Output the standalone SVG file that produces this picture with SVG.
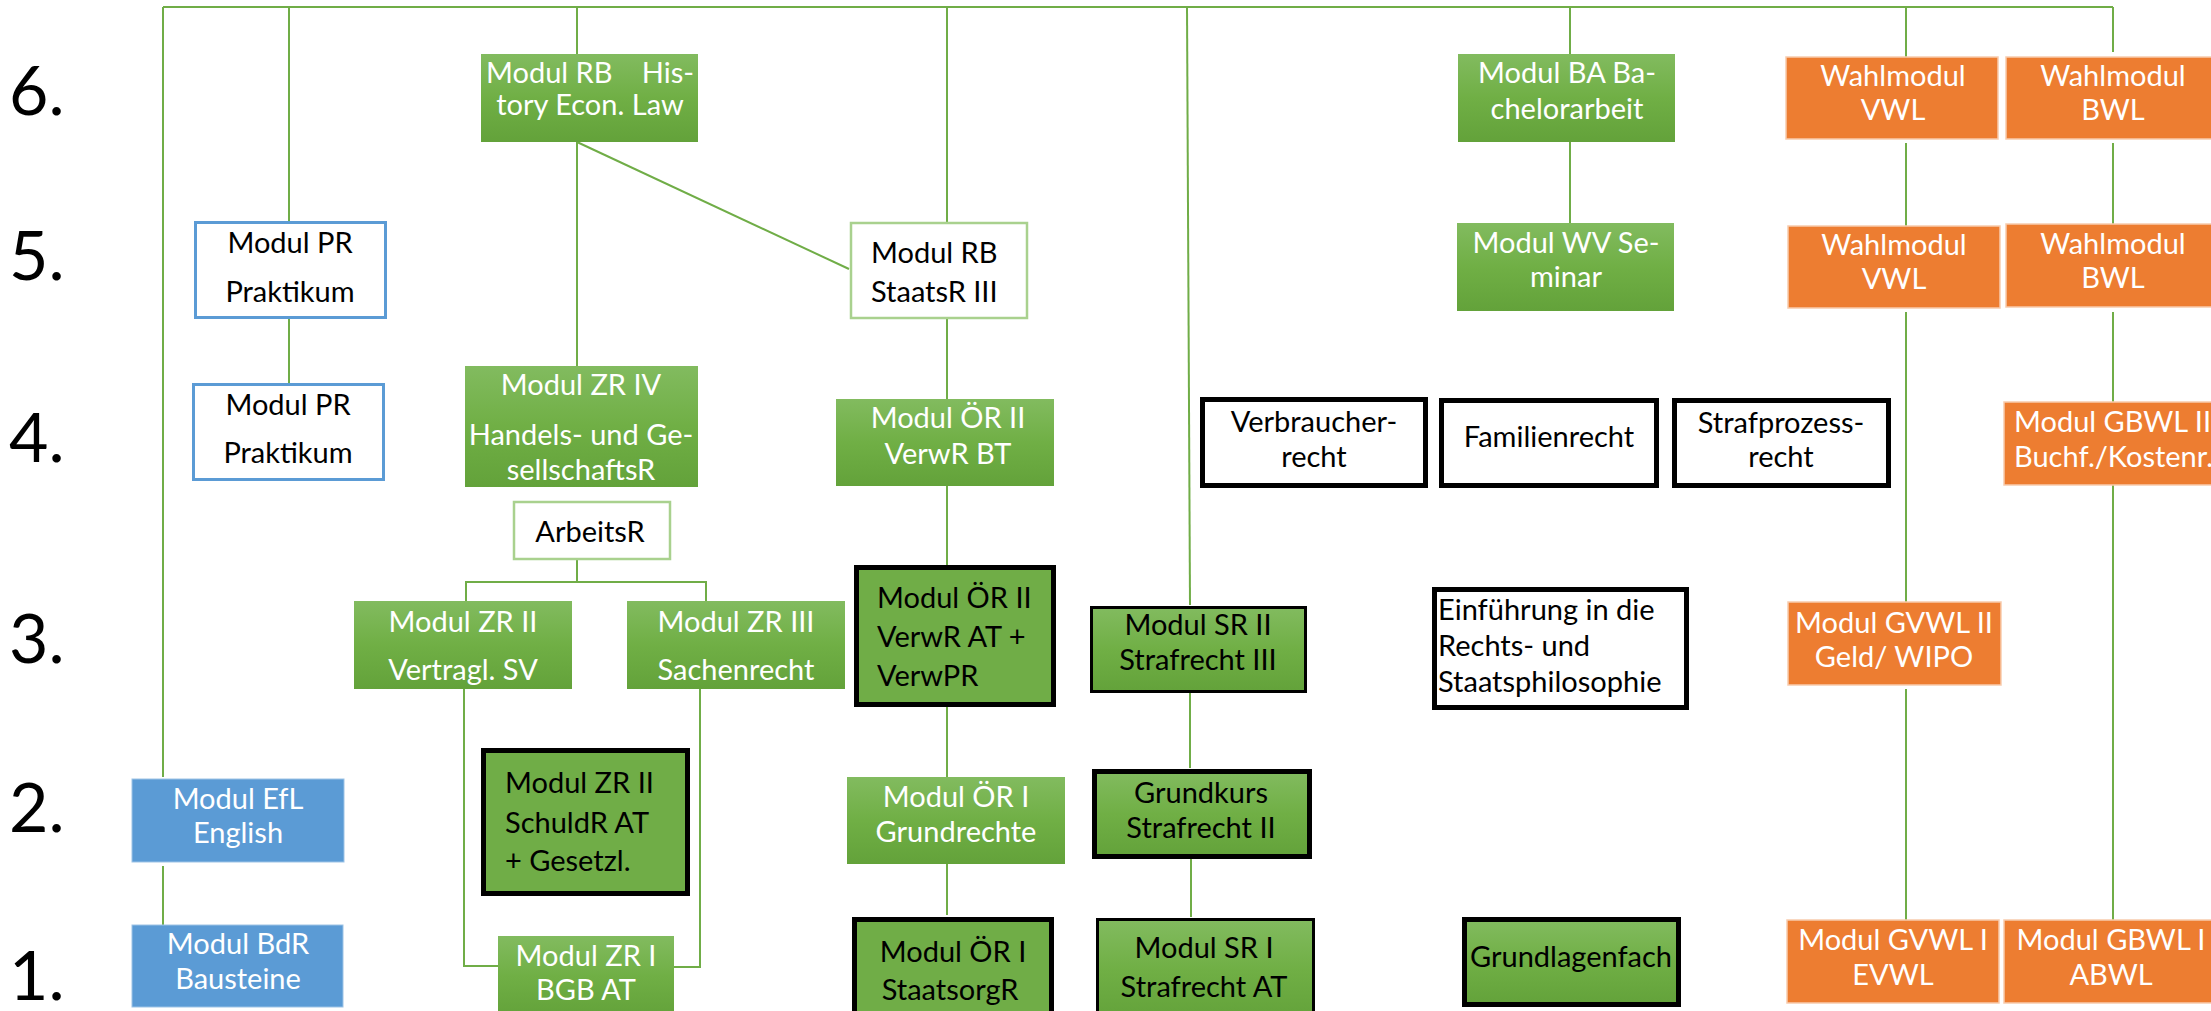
<svg xmlns="http://www.w3.org/2000/svg" width="2211" height="1011" viewBox="0 0 2211 1011">
<defs>
<linearGradient id="gg" x1="0" y1="0" x2="0" y2="1">
<stop offset="0" stop-color="#82BB5F"/>
<stop offset="0.5" stop-color="#70AF45"/>
<stop offset="1" stop-color="#63A23A"/>
</linearGradient>
<style>
.ln{stroke:#70AD47;stroke-width:2;fill:none}
.g{fill:url(#gg)}
.gf{fill:#70AD47;stroke:#000;stroke-width:5}
.gb{fill:url(#gg);stroke:#000;stroke-width:5}
.gb3{fill:url(#gg);stroke:#000;stroke-width:3}
.wb{fill:#fff;stroke:#000;stroke-width:5}
.o{fill:#ED7D31;stroke:#F8CBAD;stroke-width:1.5}
.b{fill:#5B9BD5;stroke:#9DC3E6;stroke-width:1}
.pr{fill:#fff;stroke:#5B9BD5;stroke-width:3}
.lg{fill:#fff;stroke:#A9D18E;stroke-width:2.5}
text{font-family:Lato,"Liberation Sans",sans-serif;font-size:29px}
.tw{fill:#fff}
.tb{fill:#000}
.c{text-anchor:middle}
.e{text-anchor:end}
.row{font-size:68px;fill:#000}
</style>
</defs>
<rect width="2211" height="1011" fill="#fff"/>

<g id="rows">
<text class="row" x="9" y="115">6.</text>
<text class="row" x="9" y="280">5.</text>
<text class="row" x="9" y="462">4.</text>
<text class="row" x="9" y="663">3.</text>
<text class="row" x="9" y="832">2.</text>
<text class="row" x="9" y="1000">1.</text>
</g>

<g id="connectors">
<path class="ln" d="M163,7 H2113"/>
<path class="ln" d="M163,7 V777"/>
<path class="ln" d="M289,7 V221"/>
<path class="ln" d="M577,7 V54"/>
<path class="ln" d="M947,7 V222"/>
<path class="ln" d="M1187,7 L1190,605"/>
<path class="ln" d="M1570,7 V54"/>
<path class="ln" d="M1906,7 V57"/>
<path class="ln" d="M2113,7 V52"/>
<path class="ln" d="M289,319 V383"/>
<path class="ln" d="M577,142 V366"/>
<path class="ln" d="M577,142 L849,269"/>
<path class="ln" d="M577,559 V582 M466,601 V582 H706 V601"/>
<path class="ln" d="M464,689 V966 H498"/>
<path class="ln" d="M700,689 V967 H674"/>
<path class="ln" d="M163,866 V925"/>
<path class="ln" d="M947,319 V399"/>
<path class="ln" d="M947,486 V565"/>
<path class="ln" d="M947,707 V777"/>
<path class="ln" d="M947,864 V915"/>
<path class="ln" d="M1190,693 V768"/>
<path class="ln" d="M1191,859 V917"/>
<path class="ln" d="M1570,142 V223"/>
<path class="ln" d="M1906,143 V226"/>
<path class="ln" d="M1906,312 V602"/>
<path class="ln" d="M1906,689 V920"/>
<path class="ln" d="M2113,143 V224"/>
<path class="ln" d="M2113,312 V402"/>
<path class="ln" d="M2113,485 V920"/>
</g>

<g id="n_pr5">
<rect class="pr" x="195.5" y="222.5" width="190" height="95"/>
<text class="tb c" x="290" y="253">Modul PR</text>
<text class="tb c" x="290" y="302">Praktikum</text>
</g>
<g id="n_pr4">
<rect class="pr" x="193.5" y="384.5" width="190" height="95"/>
<text class="tb c" x="288" y="415">Modul PR</text>
<text class="tb c" x="288" y="463">Praktikum</text>
</g>
<g id="n_rb6">
<rect class="g" x="481" y="54" width="217" height="88"/>
<text class="tw" x="486" y="83">Modul RB<tspan class="e" x="694">His-</tspan></text>
<text class="tw c" x="590" y="115">tory Econ. Law</text>
</g>
<g id="n_zr4">
<rect class="g" x="465" y="366" width="233" height="121"/>
<text class="tw c" x="581" y="395">Modul ZR IV</text>
<text class="tw c" x="581" y="445">Handels- und Ge-</text>
<text class="tw c" x="581" y="480">sellschaftsR</text>
</g>
<g id="n_arb">
<rect class="lg" x="514" y="502" width="156" height="57"/>
<text class="tb c" x="590" y="542">ArbeitsR</text>
</g>
<g id="n_zr2">
<rect class="g" x="354" y="601" width="218" height="88"/>
<text class="tw c" x="463" y="632">Modul ZR II</text>
<text class="tw c" x="463" y="680">Vertragl. SV</text>
</g>
<g id="n_zr3">
<rect class="g" x="627" y="601" width="218" height="88"/>
<text class="tw c" x="736" y="632">Modul ZR III</text>
<text class="tw c" x="736" y="680">Sachenrecht</text>
</g>
<g id="n_schuld">
<rect class="gf" x="483.5" y="750.5" width="204" height="143"/>
<text class="tb" x="505" y="793">Modul ZR II</text>
<text class="tb" x="505" y="833">SchuldR AT</text>
<text class="tb" x="505" y="871">+ Gesetzl.</text>
</g>
<g id="n_zr1">
<rect class="g" x="498" y="936" width="176" height="80"/>
<text class="tw c" x="586" y="966">Modul ZR I</text>
<text class="tw c" x="586" y="1000">BGB AT</text>
</g>
<g id="n_efl">
<rect class="b" x="132" y="779" width="212" height="83"/>
<text class="tw c" x="238" y="809">Modul EfL</text>
<text class="tw c" x="238" y="843">English</text>
</g>
<g id="n_bdr">
<rect class="b" x="132" y="925" width="211" height="82"/>
<text class="tw c" x="238" y="954">Modul BdR</text>
<text class="tw c" x="238" y="989">Bausteine</text>
</g>
<g id="n_rb5">
<rect class="lg" x="851" y="223" width="176" height="95"/>
<text class="tb" x="871" y="263">Modul RB</text>
<text class="tb" x="871" y="302">StaatsR III</text>
</g>
<g id="n_or2bt">
<rect class="g" x="836" y="399" width="218" height="87"/>
<text class="tw c" x="948" y="428">Modul ÖR II</text>
<text class="tw c" x="948" y="464">VerwR BT</text>
</g>
<g id="n_or2at">
<rect class="gf" x="856.5" y="567.5" width="197" height="137"/>
<text class="tb" x="877" y="608">Modul ÖR II</text>
<text class="tb" x="877" y="647">VerwR AT +</text>
<text class="tb" x="877" y="686">VerwPR</text>
</g>
<g id="n_or1gr">
<rect class="g" x="847" y="777" width="218" height="87"/>
<text class="tw c" x="956" y="807">Modul ÖR I</text>
<text class="tw c" x="956" y="842">Grundrechte</text>
</g>
<g id="n_or1st">
<rect class="gf" x="854.5" y="919.5" width="197" height="100"/>
<text class="tb c" x="953" y="962">Modul ÖR I</text>
<text class="tb c" x="950" y="1000">StaatsorgR</text>
</g>
<g id="n_sr2">
<rect class="gb3" x="1091.5" y="607.5" width="214" height="84"/>
<text class="tb c" x="1198" y="635">Modul SR II</text>
<text class="tb c" x="1198" y="670">Strafrecht III</text>
</g>
<g id="n_gk">
<rect class="gb" x="1094.5" y="771.5" width="215" height="85"/>
<text class="tb c" x="1201" y="803">Grundkurs</text>
<text class="tb c" x="1201" y="838">Strafrecht II</text>
</g>
<g id="n_sr1">
<rect class="gb3" x="1097.5" y="919.5" width="216" height="100"/>
<text class="tb c" x="1204" y="958">Modul SR I</text>
<text class="tb c" x="1204" y="997">Strafrecht AT</text>
</g>
<g id="n_verb">
<rect class="wb" x="1202.5" y="399.5" width="223" height="86"/>
<text class="tb c" x="1314" y="432">Verbraucher-</text>
<text class="tb c" x="1314" y="467">recht</text>
</g>
<g id="n_fam">
<rect class="wb" x="1441.5" y="400.5" width="215" height="85"/>
<text class="tb c" x="1549" y="447">Familienrecht</text>
</g>
<g id="n_straf">
<rect class="wb" x="1674.5" y="400.5" width="214" height="85"/>
<text class="tb c" x="1781" y="433">Strafprozess-</text>
<text class="tb c" x="1781" y="467">recht</text>
</g>
<g id="n_einf">
<rect class="wb" x="1434.5" y="589.5" width="252" height="118"/>
<text class="tb" x="1438" y="620">Einführung in die</text>
<text class="tb" x="1438" y="656">Rechts- und</text>
<text class="tb" x="1438" y="692">Staatsphilosophie</text>
</g>
<g id="n_grund">
<rect class="gb" x="1464.5" y="919.5" width="214" height="85"/>
<text class="tb c" x="1571" y="967">Grundlagenfach</text>
</g>
<g id="n_ba">
<rect class="g" x="1458" y="54" width="217" height="88"/>
<text class="tw c" x="1567" y="83">Modul BA Ba-</text>
<text class="tw c" x="1567" y="119">chelorarbeit</text>
</g>
<g id="n_wv">
<rect class="g" x="1457" y="223" width="217" height="88"/>
<text class="tw c" x="1566" y="253">Modul WV Se-</text>
<text class="tw c" x="1566" y="287">minar</text>
</g>
<g id="n_wvwl6">
<rect class="o" x="1786" y="57" width="212" height="82"/>
<text class="tw c" x="1893" y="86">Wahlmodul</text>
<text class="tw c" x="1893" y="120">VWL</text>
</g>
<g id="n_wbwl6">
<rect class="o" x="2006" y="57" width="210" height="82"/>
<text class="tw c" x="2113" y="86">Wahlmodul</text>
<text class="tw c" x="2113" y="120">BWL</text>
</g>
<g id="n_wvwl5">
<rect class="o" x="1788" y="226" width="212" height="82"/>
<text class="tw c" x="1894" y="255">Wahlmodul</text>
<text class="tw c" x="1894" y="289">VWL</text>
</g>
<g id="n_wbwl5">
<rect class="o" x="2006" y="224" width="210" height="83"/>
<text class="tw c" x="2113" y="254">Wahlmodul</text>
<text class="tw c" x="2113" y="288">BWL</text>
</g>
<g id="n_gbwl2">
<rect class="o" x="2004" y="402" width="212" height="83"/>
<text class="tw" x="2014" y="432">Modul GBWL II</text>
<text class="tw" x="2014" y="467">Buchf./Kostenr.</text>
</g>
<g id="n_gvwl2">
<rect class="o" x="1788" y="602" width="213" height="83"/>
<text class="tw c" x="1894" y="633">Modul GVWL II</text>
<text class="tw c" x="1894" y="667">Geld/ WIPO</text>
</g>
<g id="n_gvwl1">
<rect class="o" x="1787" y="920" width="212" height="83"/>
<text class="tw c" x="1893" y="950">Modul GVWL I</text>
<text class="tw c" x="1893" y="985">EVWL</text>
</g>
<g id="n_gbwl1">
<rect class="o" x="2004" y="920" width="212" height="83"/>
<text class="tw c" x="2111" y="950">Modul GBWL I</text>
<text class="tw c" x="2111" y="985">ABWL</text>
</g>
</svg>
